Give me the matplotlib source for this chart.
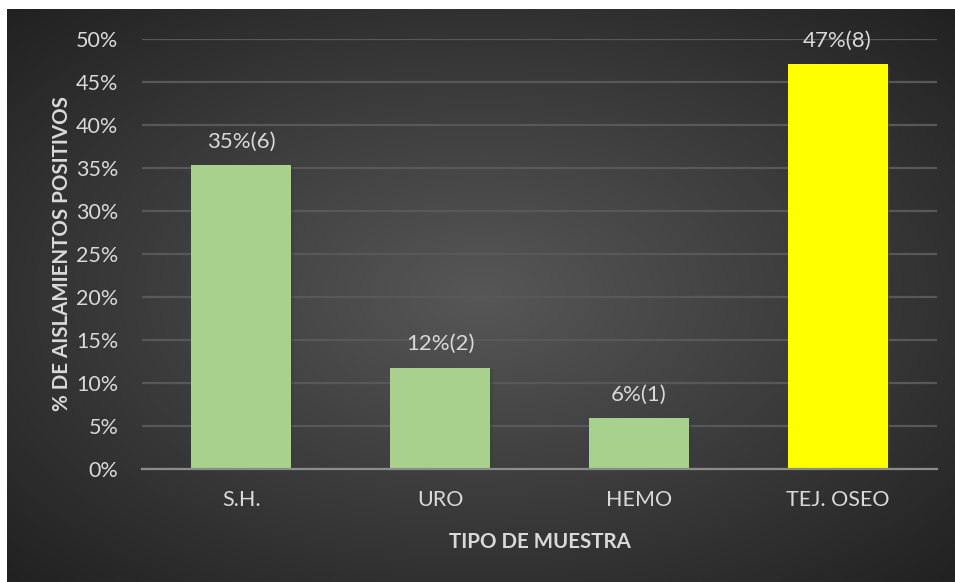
import matplotlib.pyplot as plt
import matplotlib.patheffects as pe
import numpy as np

categorias = ["S.H.", "URO", "HEMO", "TEJ. OSEO"]
casos = [6, 2, 1, 8]
total = 17
porcentajes = [c / total for c in casos]
etiquetas = ["35%(6)", "12%(2)", "6%(1)", "47%(8)"]
colores = ["#a9d18e", "#a9d18e", "#a9d18e", "#ffff00"]
yticks = [0, 0.05, 0.10, 0.15, 0.20, 0.25, 0.30, 0.35, 0.40, 0.45, 0.50]

plt.rcParams['font.family'] = ['Lato', 'DejaVu Sans']
txt = "#d9d9d9"

fig = plt.figure(figsize=(9.55, 5.82), dpi=100, facecolor="white")

# fondo oscuro con degradado radial
bg = fig.add_axes([7/955, 0, 948/955, 573/582], zorder=-10)
yy, xx = np.mgrid[-1:1:300j, -1:1:500j]
r = np.sqrt(xx ** 2 + yy ** 2) / np.sqrt(2)
grad = 0.34 - 0.21 * r
bg.imshow(np.dstack([grad, grad, grad]), aspect="auto", extent=[0, 1, 0, 1],
          interpolation="bilinear")
bg.axis("off")

ax = fig.add_axes([142/955, 1 - 469/582, 795/955, 430/582])
ax.patch.set_alpha(0)
x = np.arange(len(categorias))
barras = ax.bar(x, porcentajes, width=0.503, color=colores, zorder=3,
                path_effects=[pe.SimplePatchShadow(offset=(2, -1), alpha=0.35),
                              pe.Normal()])

for xi, v, et in zip(x, porcentajes, etiquetas):
    ax.annotate(et, (xi, v), xytext=(0, 10), textcoords="offset points",
                ha="center", va="bottom", color=txt, fontsize=16, zorder=4)

ax.set_xlim(-0.5, 3.5)
ax.set_ylim(0, 0.5)
ax.set_yticks(yticks)
ax.set_yticklabels([f"{int(round(t * 100))}%" for t in yticks])
ax.set_xticks(x)
ax.set_xticklabels(categorias)
ax.tick_params(axis="both", length=0, colors=txt, labelsize=15.5)
ax.tick_params(axis="y", pad=17)
ax.tick_params(axis="x", pad=15)
ax.yaxis.grid(True, color="#585858", linewidth=1.6, zorder=0)
ax.set_axisbelow(True)
for s in ["top", "right", "left"]:
    ax.spines[s].set_visible(False)
ax.spines["bottom"].set_color("#8c8c8c")
ax.spines["bottom"].set_linewidth(1.6)
ax.spines["bottom"].set_zorder(4)

ax.set_ylabel("% DE AISLAMIENTOS POSITIVOS", color=txt, fontsize=14.8,
              fontweight="bold", labelpad=3)
ax.set_xlabel("TIPO DE MUESTRA", color=txt, fontsize=14.8,
              fontweight="bold", labelpad=16)

fig.savefig("out.png", dpi=100, facecolor="white")
